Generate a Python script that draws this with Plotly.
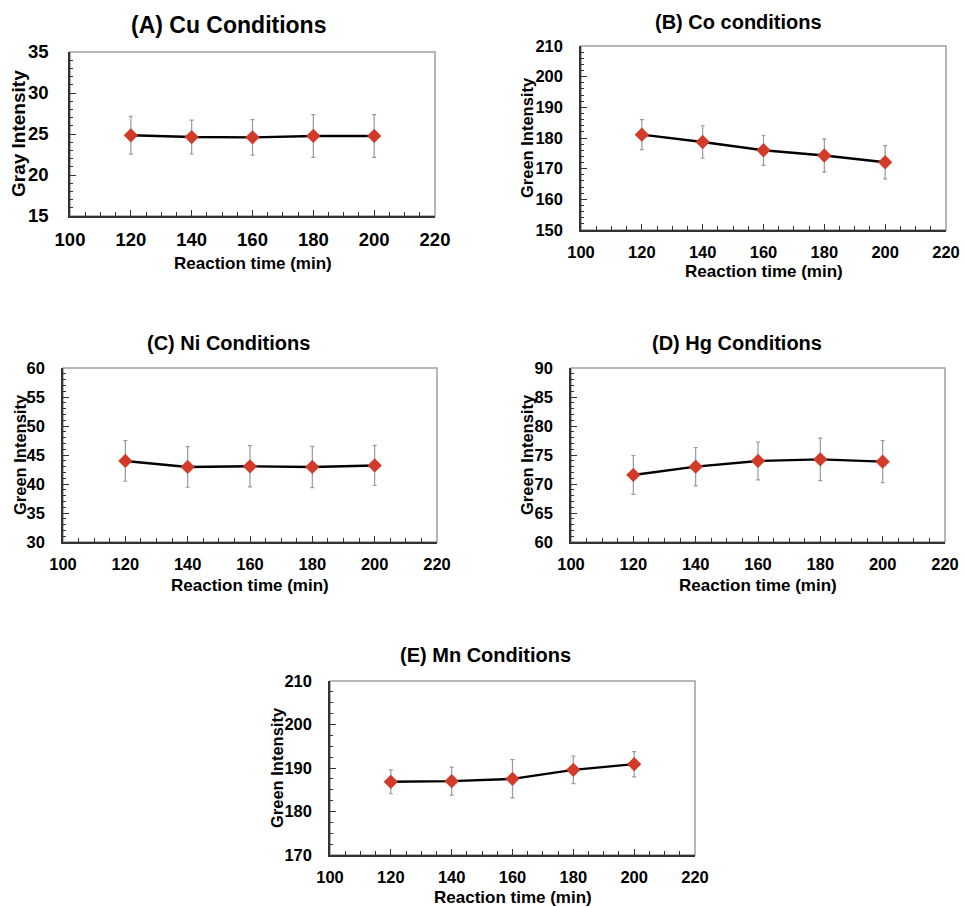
import plotly.graph_objects as go

W, H = 964, 907

time_min = [120, 140, 160, 180, 200]

titles = ["(A) Cu Conditions", "(B) Co conditions", "(C) Ni Conditions",
          "(D) Hg Conditions", "(E) Mn Conditions"]
y_titles = ["Gray Intensity", "Green Intensity", "Green Intensity",
            "Green Intensity", "Green Intensity"]
x_title = "Reaction time (min)"

cu_vals = [24.84, 24.63, 24.59, 24.76, 24.76]
cu_err = [2.3, 2.07, 2.17, 2.6, 2.6]
co_vals = [181.1, 178.7, 176.0, 174.3, 172.1]
co_err = [4.9, 5.3, 4.9, 5.4, 5.4]
ni_vals = [43.97, 42.94, 43.05, 42.94, 43.2]
ni_err = [3.5, 3.5, 3.55, 3.55, 3.46]
hg_vals = [71.56, 72.99, 73.97, 74.25, 73.85]
hg_err = [3.35, 3.3, 3.27, 3.66, 3.63]
mn_vals = [186.83, 186.98, 187.51, 189.58, 190.88]
mn_err = [2.75, 3.2, 4.4, 3.15, 2.9]

y_ranges = [[15, 35], [150, 210], [30, 60], [60, 90], [170, 210]]
y_dticks = [5, 10, 5, 5, 10]
y_minor = [1, 2, 1, 1, 2.5]

series = [(cu_vals, cu_err), (co_vals, co_err), (ni_vals, ni_err),
          (hg_vals, hg_err), (mn_vals, mn_err)]

# plot areas in pixels: x0, x1, y0(top), y1(bottom)
boxes = [(70, 435, 52, 216), (581, 946, 46, 230), (63, 437, 368, 542),
         (571, 945, 368, 542), (330, 695, 681, 855)]
title_pos = [(228, 25), (738, 22), (228, 343), (737, 343), (485, 655)]
xtitle_y = [263, 272, 585, 585, 897]
ytitle_x = [18, 527, 20, 527, 277]
title_size = [23, 20, 20, 20, 20]
xtick_size = [18.5, 16.5, 16.5, 16.5, 16.5]
ytick_size = [18.5, 16.5, 16.5, 16.5, 16.5]
ytitle_size = [19, 16.5, 16.5, 16.5, 16.5]
xtitle_size = [17, 17, 17, 17, 17]
ytick_gap = [16, 13, 13, 13, 13]

FONT = "Liberation Sans, Arial, sans-serif"
fig = go.Figure()
annotations = []
shapes = []

for i, ((vals, errs), box) in enumerate(zip(series, boxes)):
    n = "" if i == 0 else str(i + 1)
    x0, x1, yt, yb = box
    fig.add_trace(go.Scatter(
        x=time_min, y=vals, mode="lines+markers",
        line=dict(color="black", width=2.4),
        marker=dict(symbol="diamond", size=11, color="#d23a2a"),
        error_y=dict(type="data", array=errs, visible=True,
                     color="#9a9a9a", thickness=1.2, width=2),
        xaxis="x" + n, yaxis="y" + n, showlegend=False,
    ))
    common = dict(showgrid=False, zeroline=False, showline=True, automargin=False,
                  linecolor="#333333", linewidth=1.5, ticks="inside",
                  ticklen=6, tickcolor="#333333", tickwidth=1.2)
    fig.update_layout(**{
        "xaxis" + n: dict(domain=[x0 / W, x1 / W], anchor="y" + n,
                          range=[100, 220], tick0=100, dtick=20,
                          ticklabelstandoff=6,
                          tickfont=dict(family=FONT, size=xtick_size[i], color="black", weight="bold"),
                          minor=dict(ticks="inside", dtick=5, ticklen=4, tickcolor="#333333", tickwidth=1.2),
                          **common),
        "yaxis" + n: dict(domain=[1 - yb / H, 1 - yt / H], anchor="x" + n,
                          range=y_ranges[i], tick0=y_ranges[i][0], dtick=y_dticks[i],
                          ticklabelstandoff=ytick_gap[i],
                          tickfont=dict(family=FONT, size=ytick_size[i], color="black", weight="bold"),
                          minor=dict(ticks="inside", dtick=y_minor[i], ticklen=3.5, tickcolor="#333333", tickwidth=1.2),
                          **common),
    })
    shapes.append(dict(type="rect", xref="x" + n + " domain", yref="y" + n + " domain",
                       x0=0, x1=1, y0=0, y1=1, line=dict(color="#a0a0a0", width=1.5),
                       layer="below"))
    tx, ty = title_pos[i]
    annotations.append(dict(text="<b>" + titles[i] + "</b>", x=tx / W, y=1 - ty / H,
                            xref="paper", yref="paper", showarrow=False,
                            xanchor="center", yanchor="middle",
                            font=dict(family=FONT, size=title_size[i], color="black")))
    annotations.append(dict(text="<b>" + x_title + "</b>", x=(x0 + x1) / 2 / W,
                            y=1 - xtitle_y[i] / H, xref="paper", yref="paper",
                            showarrow=False, xanchor="center", yanchor="middle",
                            font=dict(family=FONT, size=xtitle_size[i], color="black")))
    annotations.append(dict(text="<b>" + y_titles[i] + "</b>", x=ytitle_x[i] / W,
                            y=1 - (yt + yb) / 2 / H, xref="paper", yref="paper",
                            showarrow=False, xanchor="center", yanchor="middle", textangle=-90,
                            font=dict(family=FONT, size=ytitle_size[i], color="black")))

fig.update_layout(width=W, height=H, margin=dict(l=0, r=0, t=0, b=0),
                  paper_bgcolor="white", plot_bgcolor="white",
                  annotations=annotations, shapes=shapes,
                  font=dict(family=FONT, color="black"))

fig.write_html("out.html", config={"displayModeBar": False},
               post_script="document.body.style.margin='0';document.body.style.overflow='hidden';")
